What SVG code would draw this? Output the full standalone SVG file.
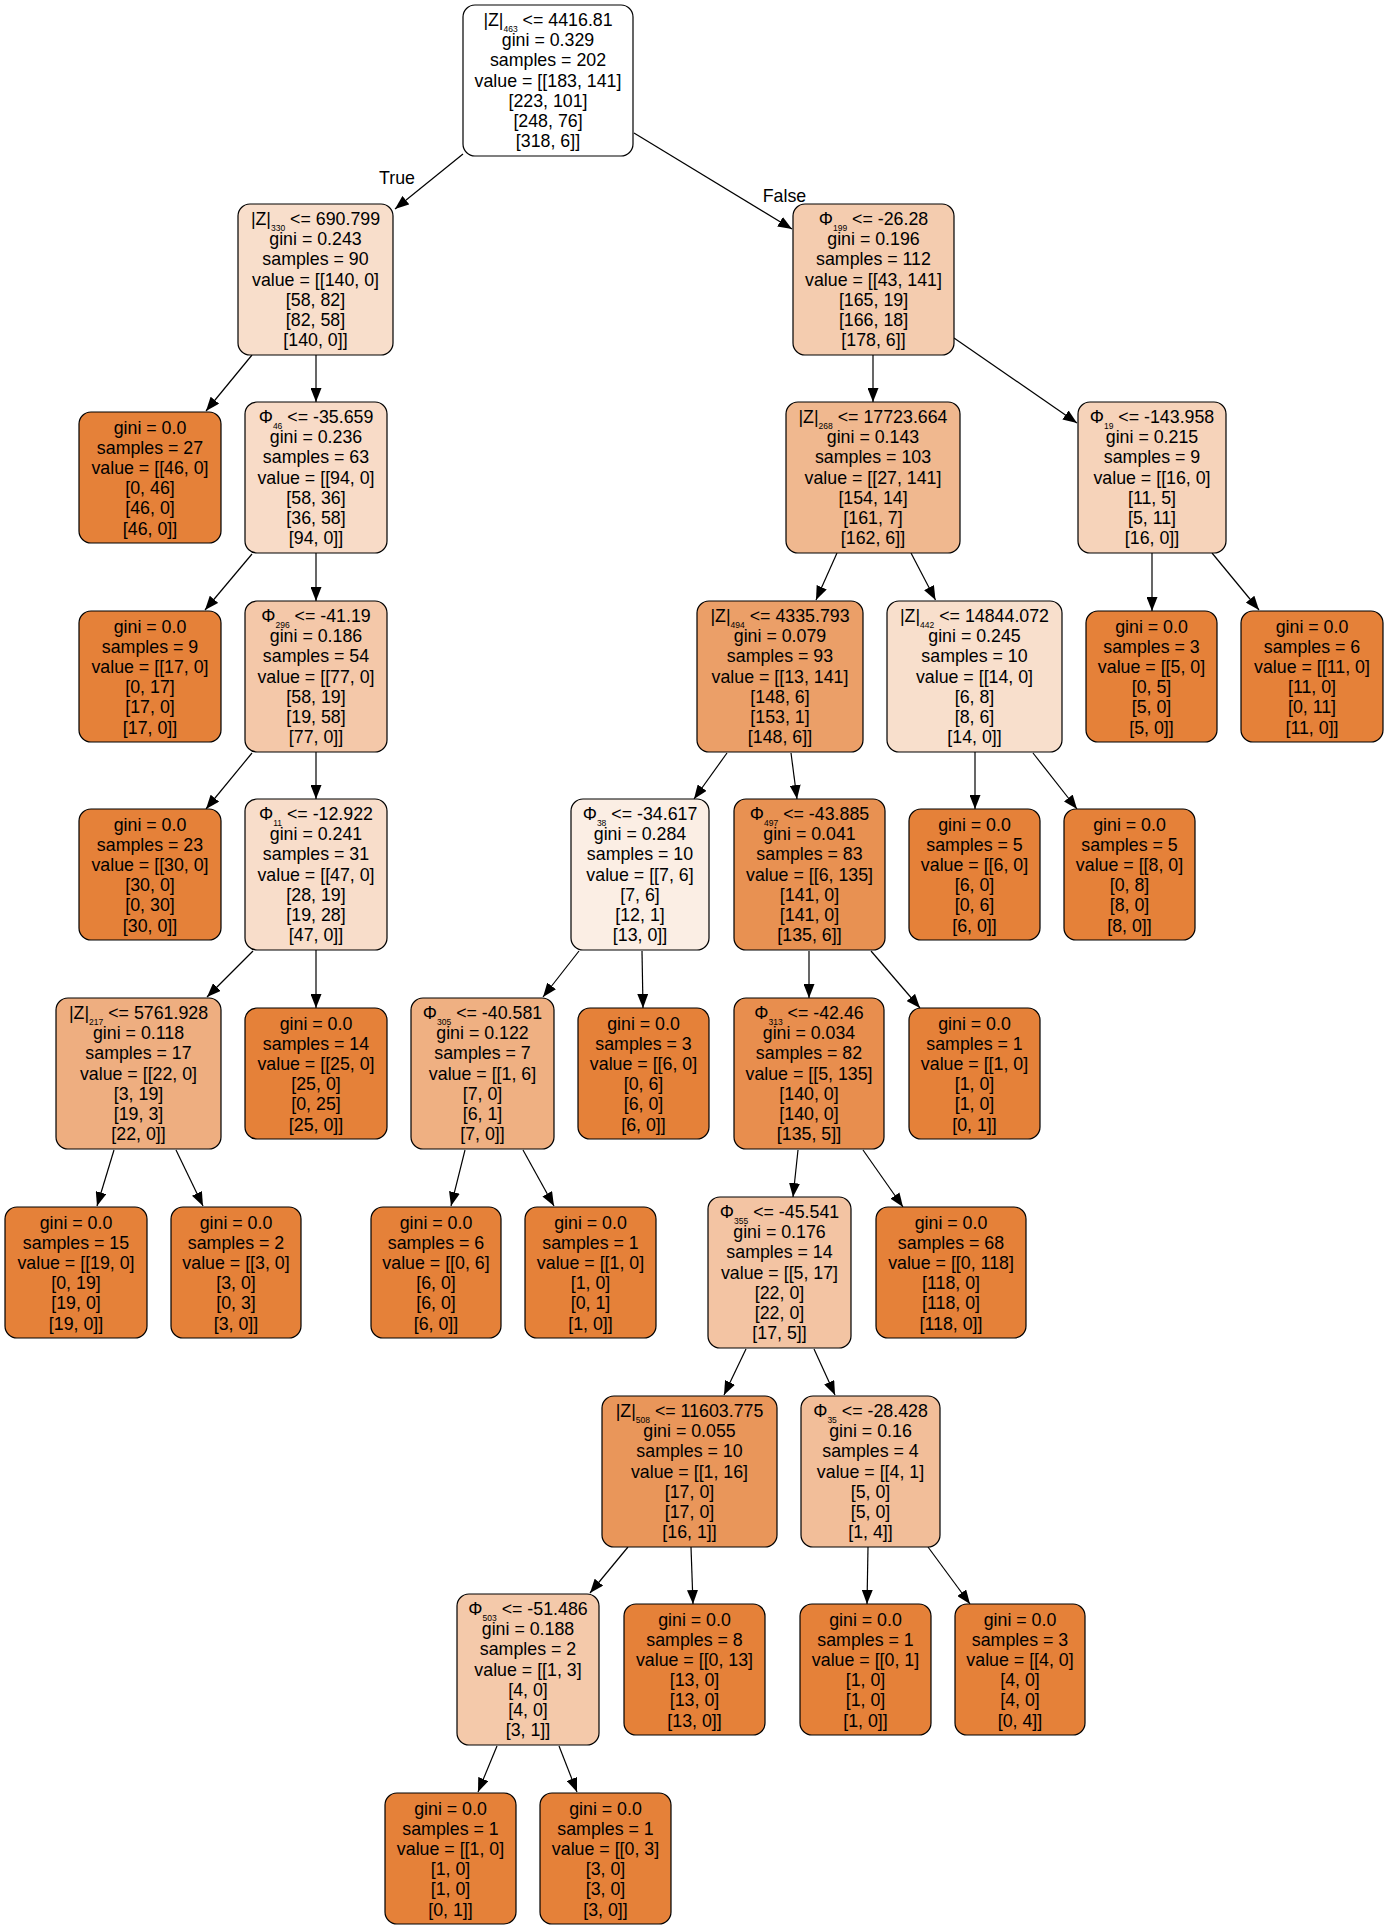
<svg xmlns="http://www.w3.org/2000/svg" width="1388" height="1929" viewBox="0 0 1388 1929">
<style>
.nd rect{stroke:#000;stroke-width:1.2}
text{font-family:"Liberation Sans",Arial,Helvetica,sans-serif;font-size:17.8px;text-anchor:middle;fill:#000}
.s{font-size:8.5px}
#edges line{stroke:#000;stroke-width:1.2;marker-end:url(#arr)}
</style>
<defs>
<marker id="arr" markerUnits="userSpaceOnUse" markerWidth="14" markerHeight="11" refX="14" refY="5.5" orient="auto">
<path d="M0,0 L14,5.5 L0,11 z" fill="#000"/>
</marker>
</defs>
<rect x="0" y="0" width="1388" height="1929" fill="#fff"/>
<g id="edges">
<line x1="463" y1="154" x2="395" y2="209"/>
<line x1="634" y1="133" x2="792" y2="229"/>
<line x1="252" y1="355" x2="206" y2="411"/>
<line x1="316" y1="354" x2="316" y2="402"/>
<line x1="873" y1="354" x2="873" y2="402"/>
<line x1="954" y1="338" x2="1077" y2="423"/>
<line x1="252" y1="554" x2="205" y2="610"/>
<line x1="316" y1="553" x2="316" y2="601"/>
<line x1="837" y1="553" x2="816" y2="600"/>
<line x1="911" y1="553" x2="935.5" y2="600"/>
<line x1="1152" y1="553" x2="1152" y2="611"/>
<line x1="1212" y1="553" x2="1259" y2="610"/>
<line x1="252" y1="753" x2="206" y2="809"/>
<line x1="316" y1="752" x2="316" y2="799"/>
<line x1="727" y1="753" x2="694" y2="799"/>
<line x1="791" y1="753" x2="797" y2="799"/>
<line x1="975" y1="752" x2="975" y2="809"/>
<line x1="1033" y1="753" x2="1077" y2="809"/>
<line x1="253" y1="951" x2="207" y2="997"/>
<line x1="316" y1="950" x2="316" y2="1008"/>
<line x1="579" y1="951" x2="543" y2="997"/>
<line x1="642" y1="951" x2="643" y2="1008"/>
<line x1="809" y1="951" x2="809" y2="998"/>
<line x1="871" y1="951" x2="920" y2="1008"/>
<line x1="114" y1="1150" x2="97" y2="1206"/>
<line x1="176" y1="1150" x2="203" y2="1206"/>
<line x1="465" y1="1150" x2="451" y2="1206"/>
<line x1="523" y1="1150" x2="554" y2="1206"/>
<line x1="798" y1="1150" x2="793" y2="1197"/>
<line x1="863" y1="1150" x2="903" y2="1207"/>
<line x1="746" y1="1349" x2="724" y2="1395"/>
<line x1="814" y1="1349" x2="835" y2="1395"/>
<line x1="628" y1="1547" x2="590" y2="1593"/>
<line x1="691" y1="1547" x2="693" y2="1604"/>
<line x1="868" y1="1547" x2="867" y2="1604"/>
<line x1="928" y1="1547" x2="970" y2="1604"/>
<line x1="497" y1="1746" x2="478" y2="1792"/>
<line x1="559" y1="1746" x2="577" y2="1792"/>
<text x="397" y="184">True</text>
<text x="784.5" y="202">False</text>
</g>

<g id="n_root" class="nd"><rect x="463" y="5" width="170" height="151" rx="12" fill="#ffffff"/>
<text x="548" y="26">|Z|<tspan class="s" dy="5.5">463</tspan><tspan dy="-5.5"> &lt;= 4416.81</tspan><tspan x="548" dy="20.2">gini = 0.329</tspan><tspan x="548" dy="20.2">samples = 202</tspan><tspan x="548" dy="20.2">value = [[183, 141]</tspan><tspan x="548" dy="20.2">[223, 101]</tspan><tspan x="548" dy="20.2">[248, 76]</tspan><tspan x="548" dy="20.2">[318, 6]]</tspan></text></g>

<g id="n_z330" class="nd"><rect x="238" y="204" width="155" height="151" rx="12" fill="#f8decb"/>
<text x="315.5" y="225">|Z|<tspan class="s" dy="5.5">330</tspan><tspan dy="-5.5"> &lt;= 690.799</tspan><tspan x="315.5" dy="20.2">gini = 0.243</tspan><tspan x="315.5" dy="20.2">samples = 90</tspan><tspan x="315.5" dy="20.2">value = [[140, 0]</tspan><tspan x="315.5" dy="20.2">[58, 82]</tspan><tspan x="315.5" dy="20.2">[82, 58]</tspan><tspan x="315.5" dy="20.2">[140, 0]]</tspan></text></g>

<g id="n_p199" class="nd"><rect x="793" y="204" width="161" height="151" rx="12" fill="#f4ccaf"/>
<text x="873.5" y="225">Φ<tspan class="s" dy="5.5">199</tspan><tspan dy="-5.5"> &lt;= -26.28</tspan><tspan x="873.5" dy="20.2">gini = 0.196</tspan><tspan x="873.5" dy="20.2">samples = 112</tspan><tspan x="873.5" dy="20.2">value = [[43, 141]</tspan><tspan x="873.5" dy="20.2">[165, 19]</tspan><tspan x="873.5" dy="20.2">[166, 18]</tspan><tspan x="873.5" dy="20.2">[178, 6]]</tspan></text></g>

<g id="n_leaf27" class="nd"><rect x="79" y="412" width="142" height="131" rx="12" fill="#e58139"/>
<text x="150" y="433.5">gini = 0.0<tspan x="150" dy="20.2">samples = 27</tspan><tspan x="150" dy="20.2">value = [[46, 0]</tspan><tspan x="150" dy="20.2">[0, 46]</tspan><tspan x="150" dy="20.2">[46, 0]</tspan><tspan x="150" dy="20.2">[46, 0]]</tspan></text></g>

<g id="n_p46" class="nd"><rect x="245" y="402" width="142" height="151" rx="12" fill="#f8dbc7"/>
<text x="316" y="423">Φ<tspan class="s" dy="5.5">46</tspan><tspan dy="-5.5"> &lt;= -35.659</tspan><tspan x="316" dy="20.2">gini = 0.236</tspan><tspan x="316" dy="20.2">samples = 63</tspan><tspan x="316" dy="20.2">value = [[94, 0]</tspan><tspan x="316" dy="20.2">[58, 36]</tspan><tspan x="316" dy="20.2">[36, 58]</tspan><tspan x="316" dy="20.2">[94, 0]]</tspan></text></g>

<g id="n_z268" class="nd"><rect x="786" y="402" width="174" height="151" rx="12" fill="#f0b88f"/>
<text x="873" y="423">|Z|<tspan class="s" dy="5.5">268</tspan><tspan dy="-5.5"> &lt;= 17723.664</tspan><tspan x="873" dy="20.2">gini = 0.143</tspan><tspan x="873" dy="20.2">samples = 103</tspan><tspan x="873" dy="20.2">value = [[27, 141]</tspan><tspan x="873" dy="20.2">[154, 14]</tspan><tspan x="873" dy="20.2">[161, 7]</tspan><tspan x="873" dy="20.2">[162, 6]]</tspan></text></g>

<g id="n_p19" class="nd"><rect x="1078" y="402" width="148" height="151" rx="12" fill="#f6d3ba"/>
<text x="1152" y="423">Φ<tspan class="s" dy="5.5">19</tspan><tspan dy="-5.5"> &lt;= -143.958</tspan><tspan x="1152" dy="20.2">gini = 0.215</tspan><tspan x="1152" dy="20.2">samples = 9</tspan><tspan x="1152" dy="20.2">value = [[16, 0]</tspan><tspan x="1152" dy="20.2">[11, 5]</tspan><tspan x="1152" dy="20.2">[5, 11]</tspan><tspan x="1152" dy="20.2">[16, 0]]</tspan></text></g>

<g id="n_leaf9" class="nd"><rect x="79" y="611" width="142" height="131" rx="12" fill="#e58139"/>
<text x="150" y="632.5">gini = 0.0<tspan x="150" dy="20.2">samples = 9</tspan><tspan x="150" dy="20.2">value = [[17, 0]</tspan><tspan x="150" dy="20.2">[0, 17]</tspan><tspan x="150" dy="20.2">[17, 0]</tspan><tspan x="150" dy="20.2">[17, 0]]</tspan></text></g>

<g id="n_p296" class="nd"><rect x="245" y="601" width="142" height="151" rx="12" fill="#f4c8a9"/>
<text x="316" y="622">Φ<tspan class="s" dy="5.5">296</tspan><tspan dy="-5.5"> &lt;= -41.19</tspan><tspan x="316" dy="20.2">gini = 0.186</tspan><tspan x="316" dy="20.2">samples = 54</tspan><tspan x="316" dy="20.2">value = [[77, 0]</tspan><tspan x="316" dy="20.2">[58, 19]</tspan><tspan x="316" dy="20.2">[19, 58]</tspan><tspan x="316" dy="20.2">[77, 0]]</tspan></text></g>

<g id="n_z494" class="nd"><rect x="697" y="601" width="166" height="151" rx="12" fill="#eb9f68"/>
<text x="780" y="622">|Z|<tspan class="s" dy="5.5">494</tspan><tspan dy="-5.5"> &lt;= 4335.793</tspan><tspan x="780" dy="20.2">gini = 0.079</tspan><tspan x="780" dy="20.2">samples = 93</tspan><tspan x="780" dy="20.2">value = [[13, 141]</tspan><tspan x="780" dy="20.2">[148, 6]</tspan><tspan x="780" dy="20.2">[153, 1]</tspan><tspan x="780" dy="20.2">[148, 6]]</tspan></text></g>

<g id="n_z442" class="nd"><rect x="887" y="601" width="175" height="151" rx="12" fill="#f8dfcc"/>
<text x="974.5" y="622">|Z|<tspan class="s" dy="5.5">442</tspan><tspan dy="-5.5"> &lt;= 14844.072</tspan><tspan x="974.5" dy="20.2">gini = 0.245</tspan><tspan x="974.5" dy="20.2">samples = 10</tspan><tspan x="974.5" dy="20.2">value = [[14, 0]</tspan><tspan x="974.5" dy="20.2">[6, 8]</tspan><tspan x="974.5" dy="20.2">[8, 6]</tspan><tspan x="974.5" dy="20.2">[14, 0]]</tspan></text></g>

<g id="n_leaf3a" class="nd"><rect x="1086" y="611" width="131" height="131" rx="12" fill="#e58139"/>
<text x="1151.5" y="632.5">gini = 0.0<tspan x="1151.5" dy="20.2">samples = 3</tspan><tspan x="1151.5" dy="20.2">value = [[5, 0]</tspan><tspan x="1151.5" dy="20.2">[0, 5]</tspan><tspan x="1151.5" dy="20.2">[5, 0]</tspan><tspan x="1151.5" dy="20.2">[5, 0]]</tspan></text></g>

<g id="n_leaf6a" class="nd"><rect x="1241" y="611" width="142" height="131" rx="12" fill="#e58139"/>
<text x="1312" y="632.5">gini = 0.0<tspan x="1312" dy="20.2">samples = 6</tspan><tspan x="1312" dy="20.2">value = [[11, 0]</tspan><tspan x="1312" dy="20.2">[11, 0]</tspan><tspan x="1312" dy="20.2">[0, 11]</tspan><tspan x="1312" dy="20.2">[11, 0]]</tspan></text></g>

<g id="n_leaf23" class="nd"><rect x="79" y="809" width="142" height="131" rx="12" fill="#e58139"/>
<text x="150" y="830.5">gini = 0.0<tspan x="150" dy="20.2">samples = 23</tspan><tspan x="150" dy="20.2">value = [[30, 0]</tspan><tspan x="150" dy="20.2">[30, 0]</tspan><tspan x="150" dy="20.2">[0, 30]</tspan><tspan x="150" dy="20.2">[30, 0]]</tspan></text></g>

<g id="n_p11" class="nd"><rect x="245" y="799" width="142" height="151" rx="12" fill="#f8ddca"/>
<text x="316" y="820">Φ<tspan class="s" dy="5.5">11</tspan><tspan dy="-5.5"> &lt;= -12.922</tspan><tspan x="316" dy="20.2">gini = 0.241</tspan><tspan x="316" dy="20.2">samples = 31</tspan><tspan x="316" dy="20.2">value = [[47, 0]</tspan><tspan x="316" dy="20.2">[28, 19]</tspan><tspan x="316" dy="20.2">[19, 28]</tspan><tspan x="316" dy="20.2">[47, 0]]</tspan></text></g>

<g id="n_p38" class="nd"><rect x="571" y="799" width="138" height="151" rx="12" fill="#fbeee4"/>
<text x="640" y="820">Φ<tspan class="s" dy="5.5">38</tspan><tspan dy="-5.5"> &lt;= -34.617</tspan><tspan x="640" dy="20.2">gini = 0.284</tspan><tspan x="640" dy="20.2">samples = 10</tspan><tspan x="640" dy="20.2">value = [[7, 6]</tspan><tspan x="640" dy="20.2">[7, 6]</tspan><tspan x="640" dy="20.2">[12, 1]</tspan><tspan x="640" dy="20.2">[13, 0]]</tspan></text></g>

<g id="n_p497" class="nd"><rect x="734" y="799" width="151" height="151" rx="12" fill="#e89152"/>
<text x="809.5" y="820">Φ<tspan class="s" dy="5.5">497</tspan><tspan dy="-5.5"> &lt;= -43.885</tspan><tspan x="809.5" dy="20.2">gini = 0.041</tspan><tspan x="809.5" dy="20.2">samples = 83</tspan><tspan x="809.5" dy="20.2">value = [[6, 135]</tspan><tspan x="809.5" dy="20.2">[141, 0]</tspan><tspan x="809.5" dy="20.2">[141, 0]</tspan><tspan x="809.5" dy="20.2">[135, 6]]</tspan></text></g>

<g id="n_leaf5a" class="nd"><rect x="909" y="809" width="131" height="131" rx="12" fill="#e58139"/>
<text x="974.5" y="830.5">gini = 0.0<tspan x="974.5" dy="20.2">samples = 5</tspan><tspan x="974.5" dy="20.2">value = [[6, 0]</tspan><tspan x="974.5" dy="20.2">[6, 0]</tspan><tspan x="974.5" dy="20.2">[0, 6]</tspan><tspan x="974.5" dy="20.2">[6, 0]]</tspan></text></g>

<g id="n_leaf5b" class="nd"><rect x="1064" y="809" width="131" height="131" rx="12" fill="#e58139"/>
<text x="1129.5" y="830.5">gini = 0.0<tspan x="1129.5" dy="20.2">samples = 5</tspan><tspan x="1129.5" dy="20.2">value = [[8, 0]</tspan><tspan x="1129.5" dy="20.2">[0, 8]</tspan><tspan x="1129.5" dy="20.2">[8, 0]</tspan><tspan x="1129.5" dy="20.2">[8, 0]]</tspan></text></g>

<g id="n_z217" class="nd"><rect x="56" y="998" width="165" height="151" rx="12" fill="#eeae80"/>
<text x="138.5" y="1019">|Z|<tspan class="s" dy="5.5">217</tspan><tspan dy="-5.5"> &lt;= 5761.928</tspan><tspan x="138.5" dy="20.2">gini = 0.118</tspan><tspan x="138.5" dy="20.2">samples = 17</tspan><tspan x="138.5" dy="20.2">value = [[22, 0]</tspan><tspan x="138.5" dy="20.2">[3, 19]</tspan><tspan x="138.5" dy="20.2">[19, 3]</tspan><tspan x="138.5" dy="20.2">[22, 0]]</tspan></text></g>

<g id="n_leaf14" class="nd"><rect x="245" y="1008" width="142" height="131" rx="12" fill="#e58139"/>
<text x="316" y="1029.5">gini = 0.0<tspan x="316" dy="20.2">samples = 14</tspan><tspan x="316" dy="20.2">value = [[25, 0]</tspan><tspan x="316" dy="20.2">[25, 0]</tspan><tspan x="316" dy="20.2">[0, 25]</tspan><tspan x="316" dy="20.2">[25, 0]]</tspan></text></g>

<g id="n_p305" class="nd"><rect x="411" y="998" width="143" height="151" rx="12" fill="#efb082"/>
<text x="482.5" y="1019">Φ<tspan class="s" dy="5.5">305</tspan><tspan dy="-5.5"> &lt;= -40.581</tspan><tspan x="482.5" dy="20.2">gini = 0.122</tspan><tspan x="482.5" dy="20.2">samples = 7</tspan><tspan x="482.5" dy="20.2">value = [[1, 6]</tspan><tspan x="482.5" dy="20.2">[7, 0]</tspan><tspan x="482.5" dy="20.2">[6, 1]</tspan><tspan x="482.5" dy="20.2">[7, 0]]</tspan></text></g>

<g id="n_leaf3b" class="nd"><rect x="578" y="1008" width="131" height="131" rx="12" fill="#e58139"/>
<text x="643.5" y="1029.5">gini = 0.0<tspan x="643.5" dy="20.2">samples = 3</tspan><tspan x="643.5" dy="20.2">value = [[6, 0]</tspan><tspan x="643.5" dy="20.2">[0, 6]</tspan><tspan x="643.5" dy="20.2">[6, 0]</tspan><tspan x="643.5" dy="20.2">[6, 0]]</tspan></text></g>

<g id="n_p313" class="nd"><rect x="734" y="998" width="150" height="151" rx="12" fill="#e88e4e"/>
<text x="809" y="1019">Φ<tspan class="s" dy="5.5">313</tspan><tspan dy="-5.5"> &lt;= -42.46</tspan><tspan x="809" dy="20.2">gini = 0.034</tspan><tspan x="809" dy="20.2">samples = 82</tspan><tspan x="809" dy="20.2">value = [[5, 135]</tspan><tspan x="809" dy="20.2">[140, 0]</tspan><tspan x="809" dy="20.2">[140, 0]</tspan><tspan x="809" dy="20.2">[135, 5]]</tspan></text></g>

<g id="n_leaf1a" class="nd"><rect x="909" y="1008" width="131" height="131" rx="12" fill="#e58139"/>
<text x="974.5" y="1029.5">gini = 0.0<tspan x="974.5" dy="20.2">samples = 1</tspan><tspan x="974.5" dy="20.2">value = [[1, 0]</tspan><tspan x="974.5" dy="20.2">[1, 0]</tspan><tspan x="974.5" dy="20.2">[1, 0]</tspan><tspan x="974.5" dy="20.2">[0, 1]]</tspan></text></g>

<g id="n_leaf15" class="nd"><rect x="5" y="1207" width="142" height="131" rx="12" fill="#e58139"/>
<text x="76" y="1228.5">gini = 0.0<tspan x="76" dy="20.2">samples = 15</tspan><tspan x="76" dy="20.2">value = [[19, 0]</tspan><tspan x="76" dy="20.2">[0, 19]</tspan><tspan x="76" dy="20.2">[19, 0]</tspan><tspan x="76" dy="20.2">[19, 0]]</tspan></text></g>

<g id="n_leaf2" class="nd"><rect x="171" y="1207" width="130" height="131" rx="12" fill="#e58139"/>
<text x="236" y="1228.5">gini = 0.0<tspan x="236" dy="20.2">samples = 2</tspan><tspan x="236" dy="20.2">value = [[3, 0]</tspan><tspan x="236" dy="20.2">[3, 0]</tspan><tspan x="236" dy="20.2">[0, 3]</tspan><tspan x="236" dy="20.2">[3, 0]]</tspan></text></g>

<g id="n_leaf6b" class="nd"><rect x="371" y="1207" width="130" height="131" rx="12" fill="#e58139"/>
<text x="436" y="1228.5">gini = 0.0<tspan x="436" dy="20.2">samples = 6</tspan><tspan x="436" dy="20.2">value = [[0, 6]</tspan><tspan x="436" dy="20.2">[6, 0]</tspan><tspan x="436" dy="20.2">[6, 0]</tspan><tspan x="436" dy="20.2">[6, 0]]</tspan></text></g>

<g id="n_leaf1b" class="nd"><rect x="525" y="1207" width="131" height="131" rx="12" fill="#e58139"/>
<text x="590.5" y="1228.5">gini = 0.0<tspan x="590.5" dy="20.2">samples = 1</tspan><tspan x="590.5" dy="20.2">value = [[1, 0]</tspan><tspan x="590.5" dy="20.2">[1, 0]</tspan><tspan x="590.5" dy="20.2">[0, 1]</tspan><tspan x="590.5" dy="20.2">[1, 0]]</tspan></text></g>

<g id="n_p355" class="nd"><rect x="708" y="1197" width="143" height="151" rx="12" fill="#f3c4a3"/>
<text x="779.5" y="1218">Φ<tspan class="s" dy="5.5">355</tspan><tspan dy="-5.5"> &lt;= -45.541</tspan><tspan x="779.5" dy="20.2">gini = 0.176</tspan><tspan x="779.5" dy="20.2">samples = 14</tspan><tspan x="779.5" dy="20.2">value = [[5, 17]</tspan><tspan x="779.5" dy="20.2">[22, 0]</tspan><tspan x="779.5" dy="20.2">[22, 0]</tspan><tspan x="779.5" dy="20.2">[17, 5]]</tspan></text></g>

<g id="n_leaf68" class="nd"><rect x="876" y="1207" width="150" height="131" rx="12" fill="#e58139"/>
<text x="951" y="1228.5">gini = 0.0<tspan x="951" dy="20.2">samples = 68</tspan><tspan x="951" dy="20.2">value = [[0, 118]</tspan><tspan x="951" dy="20.2">[118, 0]</tspan><tspan x="951" dy="20.2">[118, 0]</tspan><tspan x="951" dy="20.2">[118, 0]]</tspan></text></g>

<g id="n_z508" class="nd"><rect x="602" y="1396" width="175" height="151" rx="12" fill="#e9965a"/>
<text x="689.5" y="1417">|Z|<tspan class="s" dy="5.5">508</tspan><tspan dy="-5.5"> &lt;= 11603.775</tspan><tspan x="689.5" dy="20.2">gini = 0.055</tspan><tspan x="689.5" dy="20.2">samples = 10</tspan><tspan x="689.5" dy="20.2">value = [[1, 16]</tspan><tspan x="689.5" dy="20.2">[17, 0]</tspan><tspan x="689.5" dy="20.2">[17, 0]</tspan><tspan x="689.5" dy="20.2">[16, 1]]</tspan></text></g>

<g id="n_p35" class="nd"><rect x="801" y="1396" width="139" height="151" rx="12" fill="#f2be99"/>
<text x="870.5" y="1417">Φ<tspan class="s" dy="5.5">35</tspan><tspan dy="-5.5"> &lt;= -28.428</tspan><tspan x="870.5" dy="20.2">gini = 0.16</tspan><tspan x="870.5" dy="20.2">samples = 4</tspan><tspan x="870.5" dy="20.2">value = [[4, 1]</tspan><tspan x="870.5" dy="20.2">[5, 0]</tspan><tspan x="870.5" dy="20.2">[5, 0]</tspan><tspan x="870.5" dy="20.2">[1, 4]]</tspan></text></g>

<g id="n_p503" class="nd"><rect x="457" y="1594" width="142" height="151" rx="12" fill="#f4c9aa"/>
<text x="528" y="1615">Φ<tspan class="s" dy="5.5">503</tspan><tspan dy="-5.5"> &lt;= -51.486</tspan><tspan x="528" dy="20.2">gini = 0.188</tspan><tspan x="528" dy="20.2">samples = 2</tspan><tspan x="528" dy="20.2">value = [[1, 3]</tspan><tspan x="528" dy="20.2">[4, 0]</tspan><tspan x="528" dy="20.2">[4, 0]</tspan><tspan x="528" dy="20.2">[3, 1]]</tspan></text></g>

<g id="n_leaf8" class="nd"><rect x="624" y="1604" width="141" height="131" rx="12" fill="#e58139"/>
<text x="694.5" y="1625.5">gini = 0.0<tspan x="694.5" dy="20.2">samples = 8</tspan><tspan x="694.5" dy="20.2">value = [[0, 13]</tspan><tspan x="694.5" dy="20.2">[13, 0]</tspan><tspan x="694.5" dy="20.2">[13, 0]</tspan><tspan x="694.5" dy="20.2">[13, 0]]</tspan></text></g>

<g id="n_leaf1c" class="nd"><rect x="800" y="1604" width="131" height="131" rx="12" fill="#e58139"/>
<text x="865.5" y="1625.5">gini = 0.0<tspan x="865.5" dy="20.2">samples = 1</tspan><tspan x="865.5" dy="20.2">value = [[0, 1]</tspan><tspan x="865.5" dy="20.2">[1, 0]</tspan><tspan x="865.5" dy="20.2">[1, 0]</tspan><tspan x="865.5" dy="20.2">[1, 0]]</tspan></text></g>

<g id="n_leaf3c" class="nd"><rect x="955" y="1604" width="130" height="131" rx="12" fill="#e58139"/>
<text x="1020" y="1625.5">gini = 0.0<tspan x="1020" dy="20.2">samples = 3</tspan><tspan x="1020" dy="20.2">value = [[4, 0]</tspan><tspan x="1020" dy="20.2">[4, 0]</tspan><tspan x="1020" dy="20.2">[4, 0]</tspan><tspan x="1020" dy="20.2">[0, 4]]</tspan></text></g>

<g id="n_leaf1d" class="nd"><rect x="385" y="1793" width="131" height="131" rx="12" fill="#e58139"/>
<text x="450.5" y="1814.5">gini = 0.0<tspan x="450.5" dy="20.2">samples = 1</tspan><tspan x="450.5" dy="20.2">value = [[1, 0]</tspan><tspan x="450.5" dy="20.2">[1, 0]</tspan><tspan x="450.5" dy="20.2">[1, 0]</tspan><tspan x="450.5" dy="20.2">[0, 1]]</tspan></text></g>

<g id="n_leaf1e" class="nd"><rect x="540" y="1793" width="131" height="131" rx="12" fill="#e58139"/>
<text x="605.5" y="1814.5">gini = 0.0<tspan x="605.5" dy="20.2">samples = 1</tspan><tspan x="605.5" dy="20.2">value = [[0, 3]</tspan><tspan x="605.5" dy="20.2">[3, 0]</tspan><tspan x="605.5" dy="20.2">[3, 0]</tspan><tspan x="605.5" dy="20.2">[3, 0]]</tspan></text></g>
</svg>
